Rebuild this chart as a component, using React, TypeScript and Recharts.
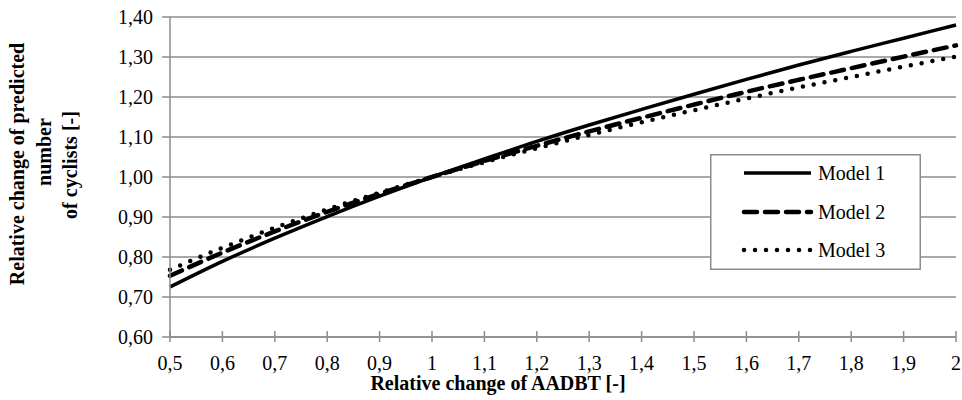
import { LineChart, Line, XAxis, YAxis, CartesianGrid, Legend, Label } from 'recharts';

const aadbt = [0.5, 0.6, 0.7, 0.8, 0.9, 1.0, 1.1, 1.2, 1.3, 1.4, 1.5, 1.6, 1.7, 1.8, 1.9, 2.0];
const model1 = [0.725, 0.789, 0.847, 0.901, 0.952, 1.0, 1.045, 1.089, 1.13, 1.169, 1.207, 1.244, 1.28, 1.314, 1.347, 1.38];
const model2 = [0.753, 0.811, 0.864, 0.913, 0.958, 1.0, 1.04, 1.078, 1.114, 1.148, 1.181, 1.213, 1.243, 1.272, 1.301, 1.329];
const model3 = [0.768, 0.823, 0.873, 0.919, 0.961, 1.0, 1.037, 1.072, 1.105, 1.137, 1.167, 1.196, 1.224, 1.25, 1.276, 1.301];

const seriesNames = ['Model 1', 'Model 2', 'Model 3'];
const xTicks = [0.5, 0.6, 0.7, 0.8, 0.9, 1.0, 1.1, 1.2, 1.3, 1.4, 1.5, 1.6, 1.7, 1.8, 1.9, 2.0];
const xTickLabels = ['0,5', '0,6', '0,7', '0,8', '0,9', '1', '1,1', '1,2', '1,3', '1,4', '1,5', '1,6', '1,7', '1,8', '1,9', '2'];
const yTicks = [0.6, 0.7, 0.8, 0.9, 1.0, 1.1, 1.2, 1.3, 1.4];
const yTickLabels = ['0,60', '0,70', '0,80', '0,90', '1,00', '1,10', '1,20', '1,30', '1,40'];

const data = aadbt.map((x, i) => ({ x, m1: model1[i], m2: model2[i], m3: model3[i] }));

const FONT = '"Liberation Serif", "Times New Roman", serif';
const GRID = '#8c8c8c';

// line looks for the three models: solid, long dash, dots
const seriesStyles = [
  { key: 'm1', width: 3.5, dash: undefined },
  { key: 'm2', width: 4.5, dash: '13 8' },
  { key: 'm3', width: 4.5, dash: '0 11' },
];

function XTick(props: any) {
  const { x, y, index } = props;
  return (
    <g>
      <line x1={x} x2={x} y1={y - 6} y2={y + 5} stroke={GRID} strokeWidth={1.5} />
      <text x={x} y={y + 33} textAnchor="middle" fontSize={20} fontFamily={FONT} fill="#000">
        {xTickLabels[index]}
      </text>
    </g>
  );
}

function XTitle() {
  return (
    <text x={498} y={390} textAnchor="middle" fontSize={20} fontWeight="bold" fontFamily={FONT} fill="#000">
      Relative change of AADBT [-]
    </text>
  );
}

function YTitle() {
  const lines = [
    { t: 'Relative change of predicted', x: 24, y: 164 },
    { t: 'number', x: 51, y: 152 },
    { t: 'of cyclists [-]', x: 77, y: 165 },
  ];
  return (
    <g>
      {lines.map((l) => (
        <text
          key={l.t}
          x={l.x}
          y={l.y}
          transform={`rotate(-90 ${l.x} ${l.y})`}
          textAnchor="middle"
          fontSize={20}
          fontWeight="bold"
          fontFamily={FONT}
          fill="#000"
        >
          {l.t}
        </text>
      ))}
    </g>
  );
}

function LegendBox() {
  const rows = [19, 58, 96];
  return (
    <svg width={211} height={116} style={{ display: 'block' }}>
      <rect x={0.75} y={0.75} width={209.5} height={114.5} fill="#fff" stroke={GRID} strokeWidth={1.5} />
      {seriesNames.map((name, i) => (
        <g key={name}>
          <line
            x1={34}
            x2={101}
            y1={rows[i]}
            y2={rows[i]}
            stroke="#000"
            strokeWidth={seriesStyles[i].width}
            strokeDasharray={seriesStyles[i].dash}
            strokeLinecap={i === 0 ? 'butt' : 'round'}
          />
          <text x={108} y={rows[i] + 7} fontSize={20} fontFamily={FONT} fill="#000">
            {name}
          </text>
        </g>
      ))}
    </svg>
  );
}

export default function App() {
  return (
    <div style={{ position: 'absolute', left: 0, top: 0 }}>
      <LineChart width={962} height={400} data={data} margin={{ top: 17, right: 6, left: 0, bottom: 0 }}>
        <CartesianGrid vertical={false} stroke={GRID} strokeWidth={1.5} />
        <XAxis
          dataKey="x"
          type="number"
          domain={[0.5, 2]}
          ticks={xTicks}
          interval={0}
          height={63}
          tickSize={0}
          tickMargin={0}
          tickLine={false}
          tick={<XTick />}
          axisLine={{ stroke: GRID, strokeWidth: 1.5 }}
        >
          <Label content={<XTitle />} />
        </XAxis>
        <YAxis
          type="number"
          domain={[0.6, 1.4]}
          ticks={yTicks}
          interval={0}
          width={170}
          tickSize={8}
          tickMargin={9}
          tickLine={{ stroke: GRID, strokeWidth: 1.5 }}
          axisLine={{ stroke: GRID, strokeWidth: 1.5 }}
          tick={{ fontSize: 20, fontFamily: FONT, fill: '#000' }}
          tickFormatter={(_v: number, i: number) => yTickLabels[i]}
        >
          <Label content={<YTitle />} />
        </YAxis>
        <Legend
          layout="vertical"
          align="center"
          verticalAlign="middle"
          content={<LegendBox />}
          wrapperStyle={{ position: 'absolute', left: 710, top: 154, width: 211, height: 116 }}
        />
        {seriesStyles.map((s, i) => (
          <Line
            key={s.key}
            type="monotone"
            dataKey={s.key}
            name={seriesNames[i]}
            stroke="#000"
            strokeWidth={s.width}
            strokeDasharray={s.dash}
            strokeLinecap={i === 0 ? 'butt' : 'round'}
            dot={false}
            activeDot={false}
            isAnimationActive={false}
          />
        ))}
      </LineChart>
    </div>
  );
}
